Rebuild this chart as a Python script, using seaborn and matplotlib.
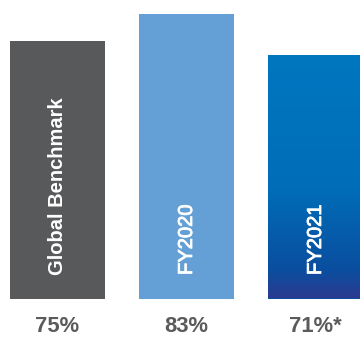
import numpy as np
import pandas as pd
import matplotlib
matplotlib.use("Agg")
import matplotlib.pyplot as plt
import matplotlib.transforms as mtransforms
import matplotlib.patheffects as pe
from matplotlib.colors import LinearSegmentedColormap
import seaborn as sns

categories = ["Global Benchmark", "FY2020", "FY2021"]
values = [75, 83, 71]
value_labels = ["75%", "83%", "71%*"]
bar_colors = ["#58595b", "#64a0d6", "#0077c0"]
grad_colors = ["#2d3a8f", "#0a4e9f", "#006db8", "#0077c0"]
grad_stops = [0.0, 0.12, 0.45, 1.0]

sns.set_theme(style="white")
plt.rcParams["font.family"] = ["Liberation Sans", "DejaVu Sans"]

fig = plt.figure(figsize=(3.6, 3.38), dpi=100)
fig.patch.set_facecolor("white")
ax = fig.add_axes([0, 39.5 / 338, 1, 298.5 / 338])

df = pd.DataFrame({"cat": categories, "val": values})
sns.barplot(data=df, x="cat", y="val", hue="cat", palette=bar_colors,
            width=0.736, saturation=1, legend=False, ax=ax, linewidth=0)

xlim = (-0.4457, 2.345)
ylim = (0, 87.0)

# gradient for third bar
patch = ax.patches[2]
patch.set_facecolor(grad_colors[1])
bx0 = patch.get_x()
bx1 = bx0 + patch.get_width()
bh = patch.get_height()
cmap = LinearSegmentedColormap.from_list("g", list(zip(grad_stops, grad_colors)))
grad = np.linspace(0, 1, 256).reshape(-1, 1)
im = ax.imshow(grad, extent=[bx0, bx1, -0.5, bh], origin="lower", aspect="auto",
               cmap=cmap, zorder=patch.get_zorder() + 0.1)
im.set_clip_path(patch)

ax.set_xlim(*xlim)
ax.set_ylim(*ylim)
ax.axis("off")

# labels inside bars
weights = ["bold", "normal", "normal"]
strokes = [0, 0.6, 0.6]
for i, name in enumerate(categories):
    t = ax.text(i, 6.85, name, rotation=90, ha="center", va="bottom",
                color="white", fontsize=14.5, fontweight=weights[i], zorder=5)
    if strokes[i]:
        t.set_path_effects([pe.withStroke(linewidth=strokes[i], foreground="white")])

# value labels below
trans = mtransforms.blended_transform_factory(ax.transData, fig.transFigure)
for i, lab in enumerate(value_labels):
    ax.text(i, (338 - 332.3) / 338, lab, ha="center", va="baseline",
            color="#5b5b5b", fontsize=15.8, fontweight="bold",
            transform=trans, clip_on=False)

fig.savefig("out.png", dpi=100, facecolor="white")
